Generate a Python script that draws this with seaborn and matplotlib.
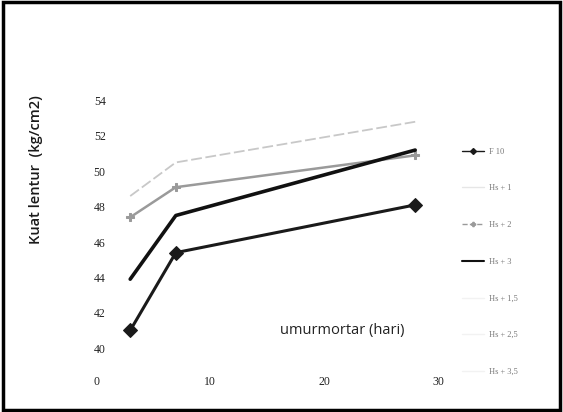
import matplotlib
matplotlib.use("Agg")
import matplotlib.pyplot as plt
from matplotlib.lines import Line2D
from matplotlib.patches import Rectangle
import pandas as pd
import seaborn as sns

# umur mortar (hari) and kuat lentur (kg/cm2)
days = [3, 7, 28]
f10 = [41.0, 45.4, 48.1]
hs1 = [48.6, 50.5, 52.8]
hs2 = [47.4, 49.1, 50.9]
hs3 = [43.9, 47.5, 51.2]
labels = ["F 10", "Hs + 1", "Hs + 2", "Hs + 3", "Hs + 1,5", "Hs + 2,5", "Hs + 3,5"]
x_ticks = [0, 10, 20, 30]
y_ticks = [40, 42, 44, 46, 48, 50, 52, 54]


def main() -> None:
    sns.set_theme(style="white")
    plt.rcParams["font.family"] = ["DejaVu Sans"]

    fig = plt.figure(figsize=(5.63, 4.12), dpi=100)
    ax = fig.add_axes([96 / 563, 55 / 412, 342 / 563, 260 / 412])

    styles = [
        (f10, "#1a1a1a", "D", 7, 2.2, "-"),
        (hs1, "#c8c8c8", None, 0, 1.3, (0, (6, 2))),
        (hs2, "#9a9a9a", "P", 6, 1.8, "-"),
        (hs3, "#111111", None, 0, 2.6, "-"),
    ]
    for vals, color, marker, ms, lw, ls in styles:
        df = pd.DataFrame({"hari": days, "kuat": vals})
        sns.lineplot(data=df, x="hari", y="kuat", ax=ax, color=color,
                     marker=marker, markersize=ms, linewidth=lw,
                     linestyle=ls, markeredgecolor=color)

    ax.set_xlim(0, 30)
    ax.set_ylim(39.5, 54.2)
    ax.set_xticks(x_ticks)
    ax.set_yticks(y_ticks)
    for side in ["top", "right", "left", "bottom"]:
        ax.spines[side].set_visible(False)
    ax.grid(False)
    serif = ["Liberation Serif", "DejaVu Serif"]
    for t in ax.get_xticklabels() + ax.get_yticklabels():
        t.set_family(serif)
        t.set_fontsize(8.5)
        t.set_color("#222222")
    ax.tick_params(axis="x", length=0, pad=14)
    ax.tick_params(axis="y", length=0, pad=-7)

    ax.set_xlabel("umurmortar (hari)", fontsize=10.5, color="#222222",
                  family=["Open Sans", "DejaVu Sans"])
    ax.xaxis.set_label_coords(0.72, 0.13)
    ax.set_ylabel("Kuat lentur  (kg/cm2)", fontsize=10.5, color="#1a1a1a",
                  family=["Open Sans", "DejaVu Sans"], fontweight="semibold")
    ax.yaxis.set_label_coords(-0.155, 0.72)

    handles = [
        Line2D([], [], color="#1a1a1a", marker="D", markersize=3, lw=1),
        Line2D([], [], color="#e6e6e6", lw=1),
        Line2D([], [], color="#9a9a9a", marker="P", markersize=3, lw=1, ls="--"),
        Line2D([], [], color="#111111", lw=1.5),
        Line2D([], [], color="#f2f2f2", lw=1),
        Line2D([], [], color="#f2f2f2", lw=1),
        Line2D([], [], color="#f2f2f2", lw=1),
    ]
    leg = fig.legend(handles, labels, loc="upper left",
                     bbox_to_anchor=(455 / 563, 1 - 140 / 412),
                     frameon=False, labelspacing=3.45,
                     handlelength=2.6, handletextpad=0.6,
                     prop={"family": serif, "size": 6})
    for t in leg.get_texts():
        t.set_color("#777777")

    fig.patches.append(Rectangle((0.006, 0.006), 0.988, 0.988,
                                 transform=fig.transFigure, fill=False,
                                 edgecolor="black", linewidth=2.5))

    fig.savefig("out.png", dpi=100)
    plt.close(fig)


if __name__ == "__main__":
    main()
